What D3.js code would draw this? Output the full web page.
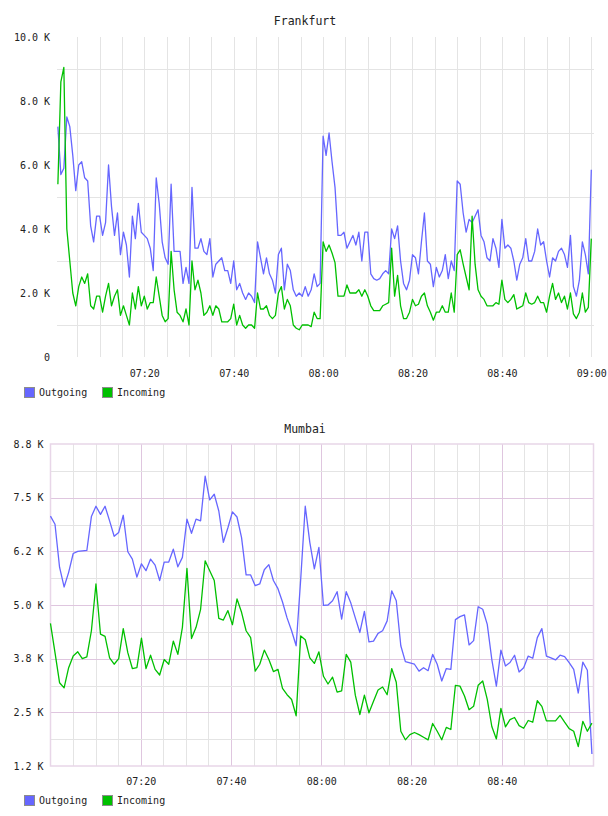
<!DOCTYPE html>
<html>
<head>
<meta charset="utf-8">
<script src="https://d3js.org/d3.v7.min.js"></script>
<style>
  body { margin: 0; background: #fff; }
  svg text { font-family: "DejaVu Sans Mono", monospace; fill: #222; }
</style>
</head>
<body>
<svg id="chart"></svg>
<script>
//SET UP THE CANVAS
var w = 608;
var h = 816;

var svg = d3.select("#chart")
     .attr("width", w)
     .attr("height", h);

//DATA (traffic, in thousands)
var seriesNames = ["Outgoing", "Incoming"];
var seriesColors = ["#6666ff", "#00c000"];

// Frankfurt: one sample every 40 s from 07:00:40
var frankfurtOut = [
     7.2, 5.7, 5.9, 7.5, 7.2, 6.3, 5.2, 6.0, 6.1, 5.6, 5.5, 4.1, 3.6, 4.4, 4.4, 3.8, 4.2, 6.0, 4.7, 3.8,
     4.5, 3.2, 3.9, 3.5, 2.5, 4.4, 3.7, 4.8, 3.9, 3.8, 3.7, 3.4, 2.7, 5.6, 4.8, 3.6, 3.1, 2.9, 5.4, 3.3,
     3.3, 3.3, 2.3, 2.8, 2.3, 5.3, 3.4, 3.4, 3.7, 3.3, 3.2, 3.7, 2.5, 2.9, 3.0, 3.1, 2.7, 2.7, 2.3, 3.0,
     2.1, 2.3, 2.0, 1.8, 2.0, 1.9, 1.7, 3.6, 3.1, 2.6, 3.1, 2.6, 2.4, 2.0, 3.2, 3.4, 2.1, 2.9, 2.7, 2.1,
     1.9, 2.0, 1.9, 2.2, 1.9, 2.1, 2.6, 2.2, 2.3, 6.9, 6.3, 7.0, 6.1, 5.3, 3.8, 3.8, 3.9, 3.4, 3.6, 3.8,
     3.5, 3.9, 3.0, 3.9, 3.9, 2.6, 2.45, 2.4, 2.45, 2.6, 2.7, 2.6, 4.0, 3.7, 4.1, 3.0, 2.3, 2.1, 2.4, 3.2,
     3.1, 2.6, 3.6, 4.5, 3.0, 2.9, 2.2, 2.8, 2.5, 2.7, 3.2, 2.45, 3.0, 2.7, 5.5, 5.4, 4.5, 3.9, 4.3, 4.2,
     4.4, 4.6, 3.8, 3.6, 3.1, 3.0, 3.7, 3.4, 2.8, 4.3, 3.4, 3.5, 3.4, 3.0, 2.4, 2.9, 3.1, 3.7, 3.0, 3.0,
     3.3, 4.0, 3.5, 3.6, 3.0, 2.5, 3.1, 3.0, 3.3, 3.4, 3.2, 2.8, 3.8, 2.2, 1.9, 2.4, 3.6, 3.2, 2.6, 5.85
];
var frankfurtIn = [
     5.4, 8.6, 9.05, 4.0, 3.0, 2.0, 1.6, 2.2, 2.5, 2.3, 2.6, 1.6, 1.5, 1.9, 1.9, 1.4, 1.9, 2.3, 1.6, 1.9,
     2.1, 1.3, 1.6, 1.3, 1.0, 2.0, 1.5, 2.2, 1.6, 1.9, 1.5, 1.7, 1.7, 2.5, 1.9, 1.3, 1.1, 1.2, 3.3, 2.1,
     1.4, 1.3, 1.1, 1.5, 1.0, 3.0, 2.1, 2.4, 2.0, 1.3, 1.4, 1.6, 1.3, 1.6, 1.5, 1.1, 1.1, 1.1, 1.2, 1.65,
     1.0, 1.3, 1.0, 0.9, 1.0, 1.0, 0.9, 2.0, 1.5, 1.5, 1.6, 1.3, 1.2, 1.3, 2.0, 2.2, 1.5, 1.8, 1.6, 1.0,
     0.9, 0.85, 1.0, 1.0, 1.0, 0.95, 1.4, 1.2, 1.2, 3.6, 3.3, 3.5, 3.25, 2.95, 1.9, 1.9, 1.9, 2.25, 2.0, 2.0,
     2.0, 2.1, 1.9, 2.1, 1.9, 1.6, 1.45, 1.45, 1.45, 1.6, 1.65, 1.7, 3.4, 1.9, 2.55, 1.6, 1.2, 1.2, 1.4, 1.8,
     1.6, 1.65, 1.9, 2.0, 1.6, 1.4, 1.15, 1.4, 1.4, 1.6, 1.4, 1.4, 2.0, 1.4, 3.2, 3.35, 2.9, 2.5, 2.1, 4.4,
     2.9, 2.1, 1.9, 1.8, 1.6, 1.6, 1.6, 1.7, 1.65, 2.4, 1.8, 1.7, 1.8, 1.95, 1.5, 1.55, 1.6, 2.0, 1.7, 1.65,
     1.7, 1.9, 1.7, 1.7, 1.4, 1.9, 2.3, 1.8, 2.0, 1.7, 1.9, 1.5, 2.0, 1.35, 1.2, 1.4, 2.0, 1.4, 1.55, 3.7
];

// Mumbai: one sample about every minute from 07:00
var mumbaiOut = [
     7.07, 6.88, 5.88, 5.42, 5.76, 6.2, 6.25, 6.26, 6.27, 7.06, 7.3, 7.11, 7.3, 6.96, 6.6, 6.69, 7.09, 6.24, 6.07, 5.65,
     5.96, 5.8, 6.07, 5.93, 5.57, 6.0, 6.0, 6.3, 5.89, 6.11, 7.0, 6.67, 7.0, 6.96, 8.0, 7.45, 7.58, 7.19, 6.46, 6.8,
     7.17, 7.05, 6.57, 5.7, 5.7, 5.45, 5.49, 5.82, 5.94, 5.57, 5.38, 5.07, 4.7, 4.4, 4.05, 5.6, 7.3, 6.46, 5.84, 6.34,
     4.99, 5.0, 5.1, 5.31, 4.67, 5.31, 5.05, 4.7, 4.36, 4.85, 4.14, 4.16, 4.34, 4.4, 4.63, 5.33, 5.1, 4.05, 3.68, 3.65,
     3.62, 3.46, 3.54, 3.47, 3.85, 3.62, 3.23, 3.52, 3.5, 4.66, 4.73, 4.77, 4.07, 4.17, 4.96, 4.9, 4.55, 3.73, 3.11, 3.95,
     3.58, 3.66, 3.83, 3.44, 3.54, 3.81, 3.76, 4.24, 4.45, 3.81, 3.77, 3.72, 3.83, 3.8, 3.66, 3.5, 2.95, 3.67, 3.48, 1.53
];
var mumbaiIn = [
     4.57, 3.89, 3.19, 3.07, 3.54, 3.81, 3.91, 3.75, 3.79, 4.4, 5.49, 4.32, 4.27, 3.77, 3.62, 3.75, 4.45, 3.89, 3.52, 3.54,
     4.23, 3.52, 3.83, 3.5, 3.37, 3.73, 3.62, 4.16, 3.85, 4.48, 5.85, 4.22, 4.48, 4.9, 6.03, 5.8, 5.57, 4.69, 4.65, 4.87,
     4.54, 5.14, 4.83, 4.4, 4.24, 3.46, 3.62, 3.95, 3.73, 3.45, 3.5, 3.06, 2.91, 2.8, 2.42, 4.28, 4.19, 3.77, 3.64, 3.91,
     3.34, 3.16, 3.32, 2.97, 3.0, 3.85, 3.67, 2.9, 2.45, 2.9, 2.49, 2.76, 3.02, 3.09, 2.91, 3.52, 3.2, 2.06, 1.86, 1.98,
     2.03, 1.98, 1.92, 1.86, 2.24, 2.06, 1.86, 2.15, 2.1, 3.13, 3.11, 2.88, 2.56, 2.64, 3.13, 3.23, 2.8, 2.17, 1.88, 2.59,
     2.16, 2.33, 2.38, 2.19, 2.13, 2.31, 2.27, 2.77, 2.64, 2.3, 2.3, 2.3, 2.43, 2.27, 2.12, 2.06, 1.7, 2.29, 2.06, 2.25
];

//TICKS
var frankfurtYTicks = [0, 2, 4, 6, 8, 10];
var frankfurtYLabels = ["0", "2.0 K", "4.0 K", "6.0 K", "8.0 K", "10.0 K"];
var frankfurtYGrid = [1, 3, 5, 7, 9];
var frankfurtXLabels = ["07:20", "07:40", "08:00", "08:20", "08:40", "09:00"];

var mumbaiYTicks = [1.25, 2.5, 3.75, 5, 6.25, 7.5, 8.75];
var mumbaiYLabels = ["1.2 K", "2.5 K", "3.8 K", "5.0 K", "6.2 K", "7.5 K", "8.8 K"];
var mumbaiYMinor = [1.875, 3.125, 4.375, 5.625, 6.875, 8.125];
var mumbaiXLabels = ["07:20", "07:40", "08:00", "08:20", "08:40"];

var parseTime = d3.timeParse("%H:%M");
var t0 = parseTime("07:00");
var t1 = parseTime("09:00");

//PANELS
var panels = [
     {
          title: "Frankfurt", titleY: 25,
          top: 37, bottom: 357, left: 57, right: 594,
          xRange: [54.9, 591.3],
          yDomain: [0, 10],
          out: frankfurtOut, inc: frankfurtIn,
          start: d3.timeSecond.offset(t0, 40), stepMs: 40000,
          yTicks: frankfurtYTicks, yLabels: frankfurtYLabels,
          yMajor: frankfurtYGrid, yMinor: [],
          xLabels: frankfurtXLabels, xPad: 12.5,
          gridEnd: "09:00", border: false,
          legendY: 387
     },
     {
          title: "Mumbai", titleY: 433,
          top: 444, bottom: 766, left: 50.5, right: 593.5,
          xRange: [50.45, 591.95],
          yDomain: [1.25, 8.75],
          out: mumbaiOut, inc: mumbaiIn,
          start: t0, stepMs: 60500,
          yTicks: mumbaiYTicks, yLabels: mumbaiYLabels,
          yMajor: mumbaiYTicks.slice(1, -1), yMinor: mumbaiYMinor,
          xLabels: mumbaiXLabels, xPad: 11.7,
          gridEnd: "08:55", border: true,
          legendY: 795
     }
];

panels.forEach(drawPanel);

function drawPanel(p) {
     var g = svg.append("g");

     var x = d3.scaleTime()
          .domain([t0, t1])
          .range(p.xRange);
     var y = d3.scaleLinear()
          .domain(p.yDomain)
          .range([p.bottom, p.top]);

     var lineGray = "#e4e4e4";
     var linePink = p.border ? "#dfc6df" : lineGray;

     //vertical grid every 5 minutes
     var fiveMin = d3.timeMinute.every(5).range(parseTime("07:05"), d3.timeSecond.offset(parseTime(p.gridEnd), 1));
     g.append("g")
          .selectAll("line")
          .data(fiveMin)
          .join("line")
          .attr("x1", d => Math.round(x(d)) + 0.5)
          .attr("x2", d => Math.round(x(d)) + 0.5)
          .attr("y1", p.top)
          .attr("y2", p.bottom)
          .attr("stroke", d => (p.border && d.getMinutes() % 20 === 0) ? linePink : lineGray)
          .attr("stroke-width", 1);

     //horizontal grid
     g.append("g")
          .selectAll("line")
          .data(p.yMinor.map(v => ({v: v, major: false})).concat(p.yMajor.map(v => ({v: v, major: true}))))
          .join("line")
          .attr("x1", p.left)
          .attr("x2", p.right)
          .attr("y1", d => Math.round(y(d.v)) + 0.5)
          .attr("y2", d => Math.round(y(d.v)) + 0.5)
          .attr("stroke", d => d.major ? linePink : lineGray)
          .attr("stroke-width", 1);

     if (p.border) {
          g.append("rect")
               .attr("x", p.left)
               .attr("y", p.top)
               .attr("width", p.right - p.left)
               .attr("height", p.bottom - p.top)
               .attr("fill", "none")
               .attr("stroke", "#e8d6e8")
               .attr("stroke-width", 1.5);
     }

     //title
     g.append("text")
          .attr("x", 305)
          .attr("y", p.titleY)
          .attr("text-anchor", "middle")
          .style("font-size", "11.5px")
          .text(p.title);

     //y labels
     var yAxis = d3.axisLeft(y)
          .tickValues(p.yTicks)
          .tickFormat((d, i) => p.yLabels[i])
          .tickSize(0)
          .tickPadding(7);
     var ya = g.append("g")
          .attr("transform", "translate(" + p.left + ",0)")
          .call(yAxis);
     ya.select(".domain").remove();
     ya.selectAll("text")
          .attr("font-family", null)
          .style("font-size", "10px");

     //x labels
     var xAxis = d3.axisBottom(x)
          .tickValues(p.xLabels.map(parseTime))
          .tickFormat(d3.timeFormat("%H:%M"))
          .tickSize(0)
          .tickPadding(p.xPad);
     var xa = g.append("g")
          .attr("transform", "translate(0," + p.bottom + ")")
          .call(xAxis);
     xa.select(".domain").remove();
     xa.selectAll("text")
          .style("font-size", "10px");

     //lines
     var lineMaker = d3.line()
          .x((d, i) => x(d3.timeMillisecond.offset(p.start, i * p.stepMs)))
          .y(d => y(d));

     [p.out, p.inc].forEach(function (series, k) {
          g.append("path")
               .attr("d", lineMaker(series))
               .attr("fill", "none")
               .attr("stroke", seriesColors[k])
               .attr("stroke-width", 1.3)
               .attr("stroke-linejoin", "round");
     });

     //legend
     var legendX = [24, 102];
     var leg = g.append("g");
     seriesNames.forEach(function (name, k) {
          leg.append("rect")
               .attr("x", legendX[k] + 0.5)
               .attr("y", p.legendY + 0.5)
               .attr("width", 10)
               .attr("height", 10)
               .attr("fill", seriesColors[k])
               .attr("stroke", "#8c8c8c");
          leg.append("text")
               .attr("x", legendX[k] + 15)
               .attr("y", p.legendY + 9)
               .style("font-size", "10px")
               .text(name);
     });
}
</script>
</body>
</html>
